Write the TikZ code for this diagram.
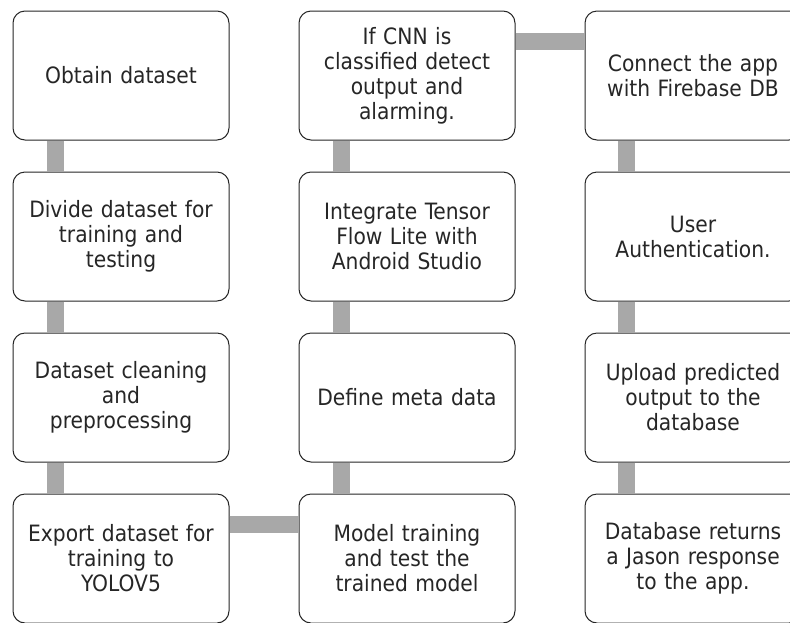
\documentclass[tikz,border=0pt]{standalone}
\usepackage{fontspec}
\setmainfont{DejaVu Sans Condensed}
\usepackage{tikz}
\usetikzlibrary{positioning}

\definecolor{bargray}{HTML}{A8A8A8}

\begin{document}
\begin{tikzpicture}[x=1pt, y=1pt, node distance=161pt and 286pt, on grid]
	\tikzstyle{task} = [draw=black!85, line width=1pt, rounded corners=12pt, fill=white,
	                    minimum width=216pt, minimum height=129pt, text width=210pt,
	                    align=center, inner sep=3pt, font=\fontsize{22.5}{25}\selectfont, text=black!85];
	\tikzstyle{link} = [draw=bargray, line width=17pt];

	\useasboundingbox (0,0) rectangle (790,-622);
	\clip (0,0) rectangle (790,-622);

	\node [task] (t_1)  at (121,-75.5)       {Obtain dataset};
	\node [task] (t_2)  [below = of t_1]     {Divide dataset for\\ training and\\ testing};
	\node [task] (t_3)  [below = of t_2]     {Dataset cleaning\\ and\\ preprocessing};
	\node [task] (t_4)  [below = of t_3]     {Export dataset for\\ training to\\ YOLOV5};
	\node [task] (t_5)  [right = of t_4]     {Model training\\ and test the\\ trained model};
	\node [task] (t_6)  [above = of t_5]     {Define meta data};
	\node [task] (t_7)  [above = of t_6]     {Integrate Tensor\\ Flow Lite with\\ Android Studio};
	\node [task] (t_8)  [above = of t_7]     {If CNN is\\ classified detect\\ output and\\ alarming.};
	\node [task] (t_9)  [right = of t_8]     {Connect the app\\ with Firebase DB};
	\node [task] (t_10) [below = of t_9]     {User\\ Authentication.};
	\node [task] (t_11) [below = of t_10]    {Upload predicted\\ output to the\\ database};
	\node [task] (t_12) [below = of t_11]    {Database returns\\ a Jason response\\ to the app.};

	\path [link] ([xshift=-66pt]t_1.south)  -- ([xshift=-66pt]t_2.north)
	             ([xshift=-66pt]t_2.south)  -- ([xshift=-66pt]t_3.north)
	             ([xshift=-66pt]t_3.south)  -- ([xshift=-66pt]t_4.north)
	             ([yshift=34.5pt]t_4.east)  -- ([yshift=34.5pt]t_5.west)
	             ([xshift=-66pt]t_6.south)  -- ([xshift=-66pt]t_5.north)
	             ([xshift=-66pt]t_7.south)  -- ([xshift=-66pt]t_6.north)
	             ([xshift=-66pt]t_8.south)  -- ([xshift=-66pt]t_7.north)
	             ([yshift=34pt]t_8.east)    -- ([yshift=34pt]t_9.west)
	             ([xshift=-67pt]t_9.south)  -- ([xshift=-67pt]t_10.north)
	             ([xshift=-67pt]t_10.south) -- ([xshift=-67pt]t_11.north)
	             ([xshift=-67pt]t_11.south) -- ([xshift=-67pt]t_12.north);
\end{tikzpicture}
\end{document}
